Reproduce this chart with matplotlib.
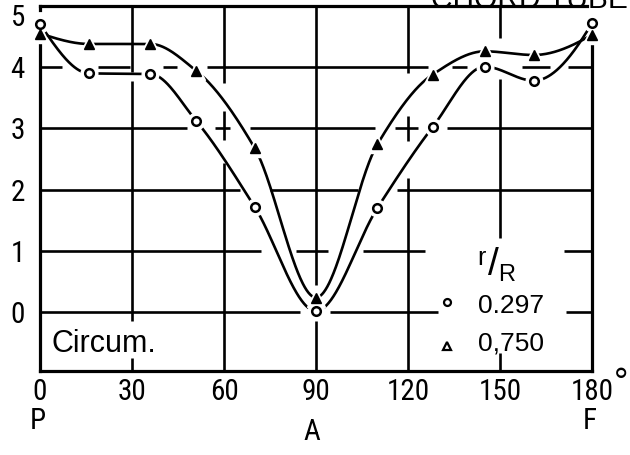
import numpy as np
import matplotlib
matplotlib.use("Agg")
import matplotlib.pyplot as plt
from matplotlib import font_manager

# ---------------- data ----------------
angle_deg = [0, 16, 36, 51, 70, 90, 110, 128, 145, 161, 180]
ratio_0297 = [4.70, 3.90, 3.89, 3.12, 1.72, 0.02, 1.70, 3.02, 4.01, 3.78, 4.72]
ratio_0750 = [4.55, 4.38, 4.38, 3.94, 2.68, 0.24, 2.74, 3.88, 4.26, 4.20, 4.53]
x_ticks = [0, 30, 60, 90, 120, 150, 180]
x_tick_labels = ["0", "30", "60", "90", "120", "150", "180"]
y_ticks = [0, 1, 2, 3, 4]
y_tick_labels = ["0", "1", "2", "3", "4"]
position_angles = [-0.8, 88.7, 179.3]
position_labels = ["P", "A", "F"]
legend_labels = ["0.297", "0,750"]
title_text = "CHORD TUBE"
panel_text = "Circum."

# ---------------- fonts ----------------
fonts = font_manager.fontManager.ttflist
names = {f.name for f in fonts}
NARROW = None
for cand in ["Liberation Sans Narrow", "Roboto Condensed", "Open Sans Condensed",
             "Noto Sans Condensed", "DejaVu Sans Condensed", "Arial Narrow"]:
    if cand in names:
        NARROW = dict(family=cand)
        break
if NARROW is None:
    cond = [f for f in fonts if str(f.stretch) in ("condensed", "semi-condensed", "extra-condensed")
            and "Mono" not in f.name and "Serif" not in f.name]
    if cond:
        NARROW = dict(family=cond[0].name, stretch=cond[0].stretch)
    else:
        NARROW = dict(family="Liberation Sans" if "Liberation Sans" in names else "DejaVu Sans")
REG = dict(family="Liberation Sans" if "Liberation Sans" in names else "DejaVu Sans")


def pchip(x, y, xs):
    x = np.asarray(x, float)
    y = np.asarray(y, float)
    h = np.diff(x)
    d = np.diff(y) / h
    n = len(x)
    m = np.zeros(n)
    for k in range(1, n - 1):
        if d[k - 1] * d[k] > 0:
            w1 = 2 * h[k] + h[k - 1]
            w2 = h[k] + 2 * h[k - 1]
            m[k] = (w1 + w2) / (w1 / d[k - 1] + w2 / d[k])

    def end(h0, h1, d0, d1):
        mm = ((2 * h0 + h1) * d0 - h0 * d1) / (h0 + h1)
        if np.sign(mm) != np.sign(d0):
            mm = 0.0
        elif np.sign(d0) != np.sign(d1) and abs(mm) > abs(3 * d0):
            mm = 3 * d0
        return mm

    m[0] = end(h[0], h[1], d[0], d[1])
    m[-1] = end(h[-1], h[-2], d[-1], d[-2])
    idx = np.clip(np.searchsorted(x, xs) - 1, 0, n - 2)
    t = (xs - x[idx]) / h[idx]
    h00 = 2 * t**3 - 3 * t**2 + 1
    h10 = t**3 - 2 * t**2 + t
    h01 = -2 * t**3 + 3 * t**2
    h11 = t**3 - t**2
    return h00 * y[idx] + h10 * h[idx] * m[idx] + h01 * y[idx + 1] + h11 * h[idx] * m[idx + 1]


fig = plt.figure(figsize=(6.3, 4.55), dpi=100)
ax = fig.add_axes([40 / 630, 84 / 455, 552 / 630, 365 / 455])
ax.set_xlim(0, 180)
ax.set_ylim(-0.96, 5.0)
for s in ax.spines.values():
    s.set_visible(False)

K = "black"
LWF = 2.3
LWG = 1.9
LWC = 1.9

# frame
frame = [([0, 180], [-0.96, -0.96]), ([0, 0], [-0.96, 4.38]), ([0, 0], [4.93, 5.0]),
         ([180, 180], [-0.96, 4.35]), ([0, 178.5], [5.0, 5.0])]
for fx, fy in frame:
    ax.plot(fx, fy, color=K, lw=LWF, solid_capstyle="projecting", clip_on=False, zorder=3)

# broken grid
hseg = {
    4: [(0, 7.2), (18.9, 29.3), (40.1, 44.7), (54.5, 126.5), (134.3, 139.2), (157.2, 166.3), (172.2, 180)],
    3: [(0, 47.9), (57.1, 61.9), (68.5, 109.3), (115.8, 123.3), (132.7, 180)],
    2: [(0, 65.2), (75, 103.7), (116.4, 180)],
    1: [(0, 72), (83.5, 94), (105.3, 125.5), (170.8, 180)],
    0: [(0, 84.8), (94.6, 129.8), (171.5, 180)],
}
vseg = {
    30: [(3.92, 5), (-0.14, 3.77), (-0.96, -0.74)],
    60: [(3.75, 5), (2.82, 3.28), (-0.96, 2.43)],
    90: [(0.45, 5), (-0.96, -0.15)],
    120: [(3.9, 5), (2.79, 3.2), (-0.96, 2.19)],
    150: [(4.47, 5), (1.21, 3.8), (-0.96, -0.66)],
}
for yv, segs in hseg.items():
    for a, b in segs:
        ax.plot([a, b], [yv, yv], color=K, lw=LWG, solid_capstyle="butt", zorder=1)
for xv, segs in vseg.items():
    for a, b in segs:
        ax.plot([xv, xv], [a, b], color=K, lw=LWG, solid_capstyle="butt", zorder=1)

# curves
xs = np.linspace(0, 180, 900)
for series in (ratio_0297, ratio_0750):
    ax.plot(xs, pchip(angle_deg, series, xs), color=K, lw=LWC, zorder=2, clip_on=False)

# marker halos + markers
ax.plot(angle_deg, ratio_0297, ls="none", marker="o", ms=12, mfc="white", mec="white", zorder=4, clip_on=False)
ax.plot(angle_deg, ratio_0750, ls="none", marker="^", ms=13, mfc="white", mec="white", zorder=4, clip_on=False)
ax.plot(angle_deg, ratio_0297, ls="none", marker="o", ms=6.2, mfc="white", mec=K, mew=1.8, zorder=5, clip_on=False)
ax.plot(angle_deg, ratio_0750, ls="none", marker="^", ms=7.2, mfc=K, mec=K, mew=1.0, zorder=5, clip_on=False)

# ticks
ax.set_xticks(x_ticks)
ax.set_xticklabels(x_tick_labels, fontsize=21, **NARROW)
ax.set_yticks(y_ticks)
ax.set_yticklabels(y_tick_labels, fontsize=21, **NARROW)
ax.tick_params(axis="x", length=0, pad=5)
ax.tick_params(axis="y", length=0, pad=11)
ax.text(-0.027, 4.80, "5", transform=ax.get_yaxis_transform(), ha="right", va="center",
        fontsize=21, **NARROW)
ax.text(189.5, -0.038, "°", transform=ax.get_xaxis_transform(), ha="center", va="center",
        fontsize=26, **REG)

xt = ax.get_xaxis_transform()
pos_y = [-0.137, -0.167, -0.137]
for lab, px, py in zip(position_labels, position_angles, pos_y):
    ax.text(px, py, lab, transform=xt, ha="center", va="center", fontsize=21, **NARROW)

# panel label
ax.text(3.9, -0.52, panel_text, ha="left", va="center", fontsize=22, **REG)

# legend
ax.plot([132.6], [0.16], ls="none", marker="o", ms=5, mfc="white", mec=K, mew=1.6, zorder=5)
ax.plot([132.6], [-0.55], ls="none", marker="^", ms=5.5, mfc="white", mec=K, mew=1.6, zorder=5)
ax.text(142.8, 0.105, legend_labels[0], ha="left", va="center", fontsize=19, **REG)
ax.text(142.8, -0.51, legend_labels[1], ha="left", va="center", fontsize=19, **REG)
ax.text(144.0, 0.89, "r", ha="center", va="center", fontsize=18, **REG)
ax.text(147.9, 0.77, "/", ha="center", va="center", fontsize=28, **REG)
ax.text(152.0, 0.60, "R", ha="center", va="center", fontsize=17, **REG)

# title (cut off at top edge, as in the reference)
fig.text(628 / 630, 1 - 8 / 455, title_text, ha="right", va="baseline", fontsize=21.5, **REG)

fig.savefig("out.png", dpi=100)
